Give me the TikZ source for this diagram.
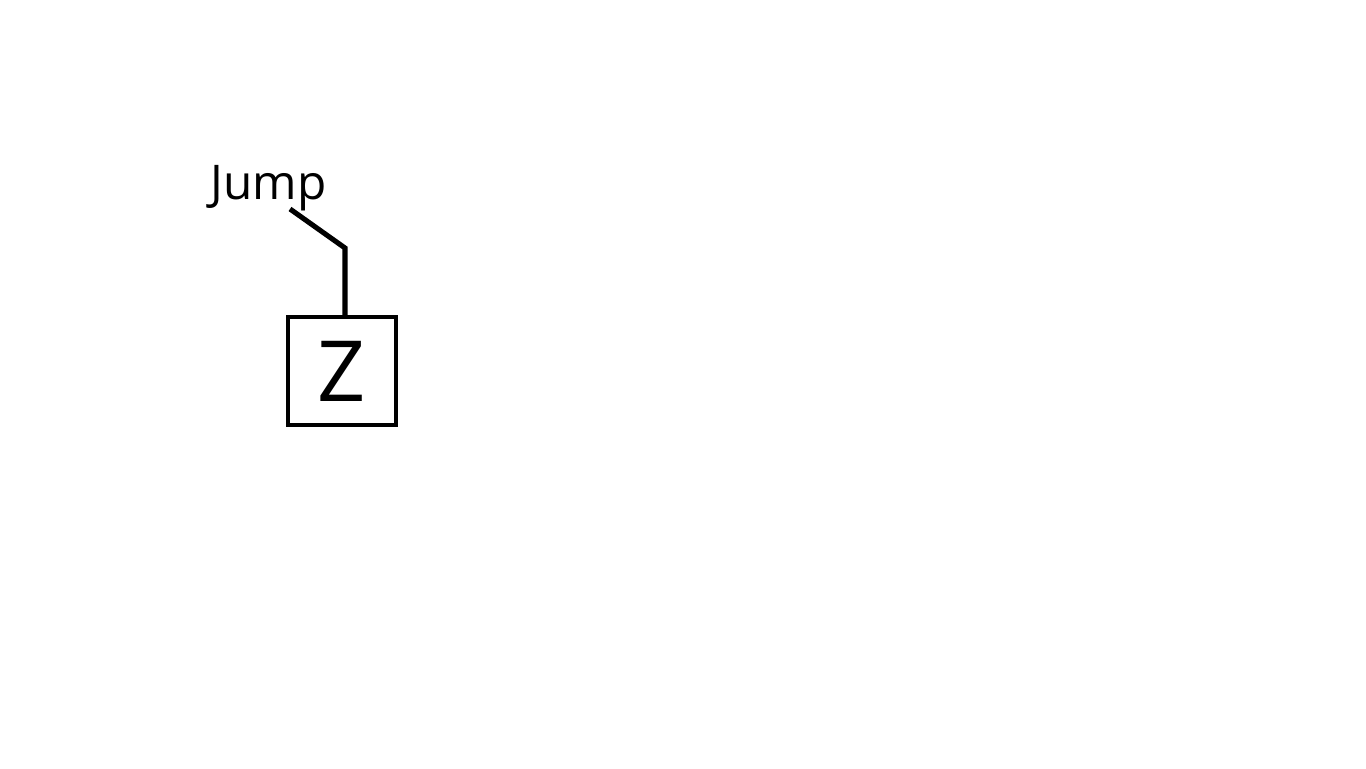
\documentclass[tikz,border=0pt]{standalone}
\usepackage{fontspec}
\setmainfont{Open Sans}
\usepackage{xcolor}
\usepackage{tikz}
\usetikzlibrary{calc}
\definecolor{ink}{HTML}{000000}

\begin{document}
\begin{tikzpicture}[
    letterbox/.style={draw=ink, line width=1pt, minimum size=1.08cm, inner sep=0pt,
                      font=\fontsize{24}{28}\selectfont},
    tag/.style={ink, inner sep=0pt, font=\fontsize{13.6}{16}\selectfont},
    lead/.style={ink, line width=1.45pt}
  ]
  \useasboundingbox (0,0) rectangle (13.66,7.68);
  % the lettered box and its label
  \node[letterbox] (zbox) at (3.42,3.97) {Z};
  \node[tag, anchor=base west] (jump) at (2.10,5.68) {Jump};
  % leader from the label down to the box
  \coordinate (tail) at (2.90,5.59);
  \coordinate (bend) at (3.45,5.20);
  \draw[lead] (tail) -- (bend) -- (bend |- zbox.north);
\end{tikzpicture}
\end{document}
